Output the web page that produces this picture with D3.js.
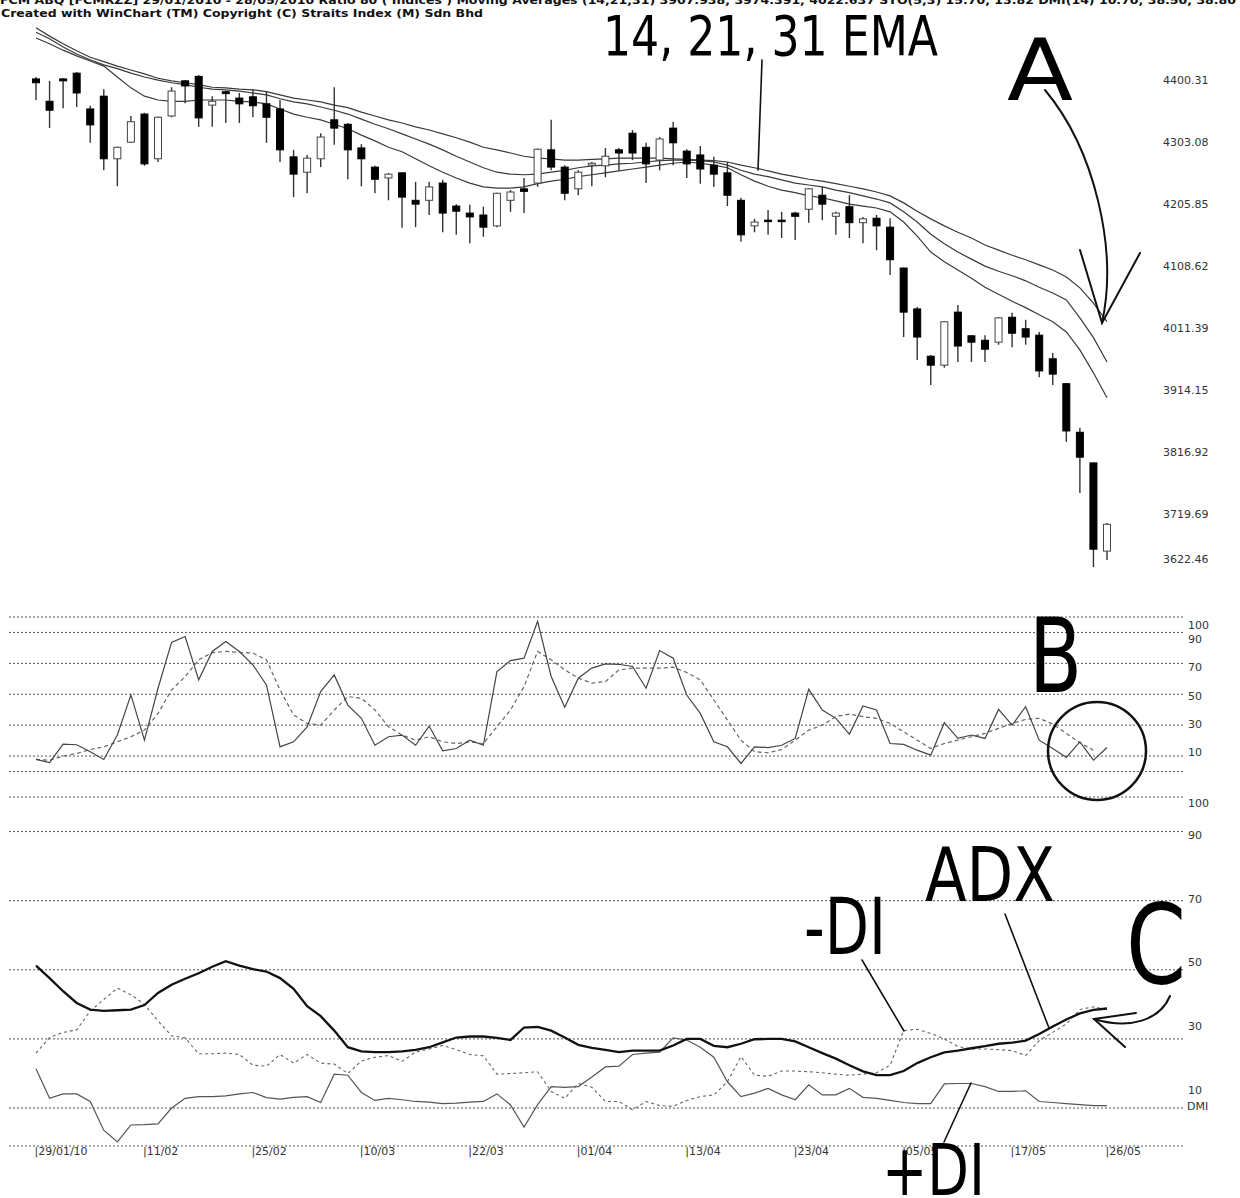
<!DOCTYPE html>
<html><head><meta charset="utf-8">
<script src="https://cdn.jsdelivr.net/npm/d3@7"></script>
<style>html,body{margin:0;padding:0;background:#fff;} svg{display:block}</style>
</head><body>
<svg id="chart" width="1240" height="1198"></svg>
<script>
// ---------- DATA ----------
const tickDays   = [0, 8, 16, 24, 32, 40, 48, 56, 64, 72, 79];
const tickLabels = ["29/01/10","11/02","25/02","10/03","22/03","01/04","13/04","23/04","05/05","17/05","26/05"];
const priceTicks = [4400.31, 4303.08, 4205.85, 4108.62, 4011.39, 3914.15, 3816.92, 3719.69, 3622.46];

const open  = [4402,4367,4402,4411,4355,4375,4277,4303,4347,4277, 4344,4399,4406,4361,4382,4372,4374,4363,4355,4280,
               4256,4277,4338,4331,4294,4264,4247,4255,4212,4212, 4239,4203,4192,4189,4172,4212,4230,4239,4291,4264,
               4230,4267,4266,4291,4317,4295,4275,4325,4289,4283, 4267,4255,4212,4172,4181,4181,4192,4198,4220,4187,
               4202,4177,4184,4170,4106,4042,3968,3954,4037,4000, 3993,3990,4029,4011,4001,3964,3925,3849,3801,3663];
const high  = [4405,4399,4403,4413,4360,4386,4296,4344,4349,4343, 4389,4400,4408,4375,4383,4380,4386,4382,4369,4291,
               4283,4317,4389,4333,4300,4266,4255,4256,4241,4241, 4244,4206,4205,4202,4224,4228,4247,4293,4338,4267,
               4259,4272,4294,4294,4322,4302,4311,4335,4292,4297, 4280,4272,4216,4183,4197,4194,4194,4231,4233,4194,
               4220,4186,4189,4184,4107,4045,3970,4023,4048,4001, 4001,4029,4036,4025,4006,3973,3926,3856,3802,3707];
const low   = [4369,4325,4356,4358,4302,4259,4234,4302,4266,4272, 4342,4364,4327,4327,4333,4333,4342,4302,4272,4217,
               4223,4264,4299,4245,4234,4223,4212,4169,4170,4189, 4162,4158,4145,4155,4170,4194,4192,4233,4259,4212,
               4220,4234,4248,4259,4275,4239,4259,4267,4247,4238, 4233,4203,4147,4162,4158,4153,4150,4177,4181,4158,
               4153,4145,4134,4095,3998,3962,3923,3950,3959,3959, 3959,3986,3982,3986,3935,3923,3834,3754,3638,3649];
const close = [4396,4353,4399,4380,4330,4277,4295,4335,4269,4342, 4383,4391,4341,4367,4379,4363,4360,4342,4291,4253,
               4278,4311,4325,4291,4277,4245,4253,4217,4206,4233, 4192,4195,4186,4170,4223,4225,4226,4292,4264,4223,
               4256,4270,4281,4286,4286,4269,4308,4302,4269,4261, 4253,4220,4158,4178,4180,4179,4187,4230,4206,4192,
               4177,4183,4172,4119,4037,3998,3954,4022,3984,3990, 3979,4028,4004,3998,3945,3940,3851,3810,3666,3705];

const ema14 = [4466,4457,4447,4438,4430,4422,4405,4388,4375,4369, 4367,4367,4369,4369,4369,4367,4366,4363,4355,4347,
               4342,4338,4331,4324,4314,4305,4295,4288,4277,4266, 4256,4247,4239,4233,4231,4231,4233,4238,4242,4245,
               4249,4252,4255,4258,4261,4264,4267,4270,4272,4270, 4267,4263,4252,4242,4234,4228,4224,4219,4216,4211,
               4206,4203,4200,4194,4178,4156,4131,4116,4103,4090, 4076,4065,4054,4044,4033,4022,4006,3978,3942,3903];
const ema21 = [4475,4465,4452,4441,4432,4424,4418,4411,4405,4400, 4396,4393,4389,4386,4385,4383,4380,4377,4371,4366,
               4363,4358,4353,4347,4339,4331,4324,4316,4308,4300, 4291,4281,4272,4263,4256,4253,4252,4253,4256,4259,
               4263,4266,4267,4269,4270,4272,4274,4275,4275,4274, 4272,4267,4259,4253,4249,4244,4239,4236,4233,4228,
               4224,4219,4214,4208,4194,4178,4159,4144,4131,4120, 4109,4101,4094,4086,4076,4067,4056,4028,3997,3959];
const ema31 = [4482,4469,4457,4446,4436,4429,4422,4416,4410,4403, 4399,4396,4393,4389,4388,4386,4385,4382,4377,4372,
               4369,4366,4361,4357,4350,4344,4338,4333,4327,4322, 4316,4310,4303,4295,4291,4286,4281,4278,4277,4275,
               4275,4276,4277,4278,4278,4278,4278,4277,4276,4275, 4274,4272,4267,4263,4258,4253,4249,4245,4242,4238,
               4234,4230,4225,4219,4208,4195,4183,4172,4162,4153, 4142,4134,4126,4119,4111,4103,4092,4075,4051,4022];

const rsi       = [7.8,5.8,17.7,17.3,12.8,7.8,23.6,49.6,20.3,53.9, 83.6,87.4,59.3,77.7,84.2,77.7,69.0,56.0,15.9,19.2,
                   28.9,51.7,62.5,43.0,34.4,17.0,22.5,23.6,17.0,29.4, 13.4,14.9,20.3,17.0,64.7,71.8,73.4,97.2,61.5,41.6,
                   60.4,66.9,69.7,69.4,68.0,53.9,78.3,73.3,49.5,37.6, 19.2,16.0,5.2,16.0,15.5,17.0,21.4,53.2,39.8,34.4,
                   24.2,42.4,39.8,18.1,17.5,13.8,10.6,31.6,21.4,23.6, 21.4,40.2,30.0,41.9,20.3,14.9,9.1,19.2,7.3,15.5];
const rsiSignal = [7.8,7.3,9.9,11.7,14.2,16.0,19.2,22.5,26.8,37.6, 52.8,61.4,72.3,77.0,77.7,77.2,76.6,72.3,52.8,36.6,
                   31.1,30.0,39.8,48.5,47.4,39.8,29.0,23.6,20.3,22.5, 19.2,18.1,19.2,18.1,29.0,39.8,55.0,77.7,72.3,65.8,
                   60.4,57.2,58.2,65.8,66.9,66.9,66.9,67.5,64.1,59.3, 46.3,33.3,20.3,12.8,12.1,14.2,20.3,26.8,30.0,35.5,
                   37.2,35.5,34.4,31.1,25.7,20.3,14.9,18.1,20.3,22.5, 24.7,27.9,31.1,33.7,34.4,30.7,24.7,18.6,13.8,null];

const adx     = [51.2,47.6,43.8,40.4,38.5,38.1,38.3,38.5,39.8,43.3, 45.7,47.4,49.0,50.9,52.5,51.2,50.2,49.5,47.6,44.5,
                 39.5,36.6,32.4,27.6,26.4,26.2,26.2,26.4,26.8,27.6, 29.0,30.4,30.7,30.7,30.3,29.7,33.3,33.5,32.4,30.4,
                 28.3,27.4,26.8,26.2,26.6,26.6,26.6,28.1,30.0,30.0, 28.0,27.6,28.6,29.9,30.0,30.0,29.3,27.6,25.9,24.3,
                 22.4,20.6,19.5,19.5,20.7,23.0,24.7,26.1,26.6,27.3, 27.9,28.6,28.9,29.5,31.4,33.6,35.6,37.4,38.4,38.8];
const minusDI = [25.9,30.4,31.9,32.6,38.1,41.4,44.7,42.8,40.0,35.2, 30.9,30.3,25.7,25.7,25.9,25.5,22.4,22.1,25.5,23.0,
                 25.5,23.0,22.7,20.0,23.6,24.7,25.2,23.5,26.2,27.1, 28.1,26.9,25.5,25.1,19.8,20.0,20.2,20.5,14.8,12.8,
                 17.1,16.0,11.9,11.9,9.5,11.9,10.7,10.5,12.2,13.3, 13.8,17.6,24.9,19.5,19.2,20.7,20.7,20.5,20.2,19.8,
                 19.5,19.8,20.2,22.4,32.4,32.8,31.6,30.0,27.8,27.1, 27.1,26.9,26.6,25.2,29.5,31.9,34.3,38.5,39.3,38.5];
const plusDI  = [21.4,12.8,14.1,14.1,11.9,3.6,0.2,5.1,5.2,5.4, 10.0,12.8,13.3,13.3,13.5,14.1,14.5,13.0,12.6,13.1,
                 13.3,11.6,19.8,19.5,14.5,12.2,12.8,12.4,11.9,11.7, 11.3,11.4,11.7,11.9,14.1,10.9,4.5,11.0,16.2,16.0,
                 16.2,19.0,21.9,22.1,25.5,25.9,26.2,30.3,29.7,27.6, 24.7,17.6,13.3,14.3,15.7,13.8,12.4,16.7,13.8,13.8,
                 15.7,13.1,12.8,12.2,11.6,11.3,11.3,17.0,17.1,17.1, 16.2,14.8,14.8,15.0,11.9,11.6,11.3,11.0,10.7,10.7];

const rsiLevels = [100, 90, 70, 50, 30, 10, 0];
const rsiLabels = [100, 90, 70, 50, 30, 10];
const dmiLevels = [100, 90, 70, 50, 30, 10];
const dmiLabels = [100, 90, 70, 50, 30, 10];

const headerLine1 = "FCM ABQ [FCMRZZ]  29/01/2010 - 28/05/2010   Ratio 80   ( Indices ) Moving Averages (14,21,31) 3907.938, 3974.391, 4022.637   STO(5,3) 15.70, 13.82   DMI(14) 10.70, 38.50, 38.80";
const headerLine2 = "Created with WinChart (TM)  Copyright (C) Straits Index (M) Sdn Bhd";

// ---------- LAYOUT ----------
const svg = d3.select("#chart");
const n = open.length;
const x  = d3.scaleLinear().domain([0, n - 1]).range([36, 1107]);
const yP = d3.scaleLinear().domain([3622.46, 4400.31]).range([577, 80]);
const yR = d3.scaleLinear().domain([0, 100]).range([771.5, 617]);
const yD = d3.scaleLinear().domain([0, 100]).range([1142.6, 797]);
const yRL = d3.scaleLinear().domain([10, 100]).range([752, 625]);   // RSI label placement
const yDL = d3.scaleLinear().domain([10, 100]).range([1090, 803]);  // DMI label placement
const gridX0 = 9, gridX1 = 1185;
const labelFont = "DejaVu Sans, Verdana, sans-serif";
const annoFont = "'Liberation Sans Narrow','Arial Narrow','DejaVu Sans Condensed',sans-serif";

// header
svg.append("text").attr("x", 0).attr("y", 4).attr("font-family", labelFont).attr("font-weight", "bold")
   .attr("font-size", 11).attr("fill", "#111").attr("textLength", 1236).attr("lengthAdjust", "spacingAndGlyphs").text(headerLine1);
svg.append("text").attr("x", 1).attr("y", 17).attr("font-family", labelFont).attr("font-weight", "bold")
   .attr("font-size", 11).attr("fill", "#111").attr("textLength", 482).attr("lengthAdjust", "spacingAndGlyphs").text(headerLine2);

// ---------- PRICE PANEL ----------
const lineP = d3.line().x((d, i) => x(i)).y(d => yP(d));
[ema31, ema21, ema14].forEach(s => {
  svg.append("path").datum(s).attr("d", lineP).attr("fill", "none").attr("stroke", "#3a3a3a").attr("stroke-width", 1.2);
});

const cg = svg.append("g");
const bodyW = 7;
d3.range(n).forEach(i => {
  const up = close[i] >= open[i];
  cg.append("line").attr("x1", x(i)).attr("x2", x(i)).attr("y1", yP(high[i])).attr("y2", yP(low[i]))
    .attr("stroke", "#333").attr("stroke-width", 1.4);
  const top = yP(Math.max(open[i], close[i])), bot = yP(Math.min(open[i], close[i]));
  cg.append("rect").attr("x", x(i) - bodyW / 2).attr("y", top).attr("width", bodyW)
    .attr("height", Math.max(1.5, bot - top))
    .attr("fill", up ? "#fff" : "#000").attr("stroke", up ? "#444" : "#000").attr("stroke-width", 1);
});

const pAxis = d3.axisRight(yP).tickValues(priceTicks).tickSize(0).tickPadding(0).tickFormat(d3.format(".2f"));
const pg = svg.append("g").attr("transform", "translate(1163,0)").call(pAxis);
pg.select(".domain").remove();
pg.selectAll(".tick").attr("transform", d => `translate(0,${Math.min(yP(d), 559)})`);
pg.selectAll("text").attr("font-family", labelFont).attr("font-size", 11).attr("fill", "#333");

// ---------- RSI PANEL ----------
const dashStyle = sel => sel.attr("stroke", "#555").attr("stroke-width", 1).attr("stroke-dasharray", "2,2");
rsiLevels.forEach(v => {
  svg.append("line").attr("x1", gridX0).attr("x2", gridX1).attr("y1", yR(v)).attr("y2", yR(v)).call(dashStyle);
});
const rAxis = d3.axisRight(yRL).tickValues(rsiLabels).tickSize(0).tickPadding(0);
const rg = svg.append("g").attr("transform", "translate(1188,0)").call(rAxis);
rg.select(".domain").remove();
rg.selectAll("text").attr("font-family", labelFont).attr("font-size", 11).attr("fill", "#333");

const lineR = d3.line().defined(d => d != null).x((d, i) => x(i)).y(d => yR(d));
svg.append("path").datum(rsiSignal).attr("d", lineR).attr("fill", "none").attr("stroke", "#666")
   .attr("stroke-width", 1.2).attr("stroke-dasharray", "4,3");
svg.append("path").datum(rsi).attr("d", lineR).attr("fill", "none").attr("stroke", "#444").attr("stroke-width", 1.2);

// ---------- DMI PANEL ----------
dmiLevels.forEach(v => {
  svg.append("line").attr("x1", gridX0).attr("x2", gridX1).attr("y1", yD(v)).attr("y2", yD(v)).call(dashStyle);
});
svg.append("line").attr("x1", gridX0).attr("x2", gridX1).attr("y1", 1146).attr("y2", 1146).call(dashStyle);
const dAxis = d3.axisRight(yDL).tickValues(dmiLabels).tickSize(0).tickPadding(0);
const dg = svg.append("g").attr("transform", "translate(1188,0)").call(dAxis);
dg.select(".domain").remove();
dg.selectAll("text").attr("font-family", labelFont).attr("font-size", 11).attr("fill", "#333");
svg.append("text").attr("x", 1187).attr("y", yD(10)).attr("dy", "0.2em").attr("font-family", labelFont)
   .attr("font-size", 11).attr("fill", "#333").text("DMI");

const lineD = d3.line().x((d, i) => x(i)).y(d => yD(d));
svg.append("path").datum(minusDI).attr("d", lineD).attr("fill", "none").attr("stroke", "#666")
   .attr("stroke-width", 1.1).attr("stroke-dasharray", "3,3");
svg.append("path").datum(plusDI).attr("d", lineD).attr("fill", "none").attr("stroke", "#555").attr("stroke-width", 1.2);
svg.append("path").datum(adx).attr("d", lineD).attr("fill", "none").attr("stroke", "#111").attr("stroke-width", 2.3);

// date axis
const xAxis = d3.axisBottom(x).tickValues(tickDays).tickSize(0).tickPadding(2)
  .tickFormat(d => "|" + tickLabels[tickDays.indexOf(d)]);
const xg = svg.append("g").attr("transform", "translate(0,1145)").call(xAxis);
xg.select(".domain").remove();
xg.selectAll("text").attr("text-anchor", "start").attr("dx", -2).attr("font-family", labelFont)
  .attr("font-size", 11).attr("fill", "#333");

// ---------- ANNOTATIONS ----------
const ann = svg.append("g").attr("fill", "none").attr("stroke", "#111").attr("stroke-width", 2).attr("stroke-linecap", "round");
function bigText(t, xx, yy, fs, len) {
  svg.append("text").attr("x", xx).attr("y", yy).attr("font-family", annoFont).attr("font-size", fs)
     .attr("fill", "#000").attr("textLength", len).attr("lengthAdjust", "spacingAndGlyphs").text(t);
}
bigText("14, 21, 31 EMA", 603, 55, 56, 335);
ann.append("line").attr("x1", 762).attr("y1", 60).attr("x2", 758).attr("y2", 170).attr("stroke-width", 1.6);

bigText("A", 1007, 100, 86, 66);
ann.append("path").attr("d", "M1045,90 C1095,150 1118,250 1102,323");
ann.append("path").attr("d", "M1080,250 L1102,323 L1140,253");

bigText("B", 1029, 692, 104, 53);
ann.append("circle").attr("cx", 1097).attr("cy", 751).attr("r", 49).attr("stroke-width", 2.5);

bigText("C", 1126, 983, 110, 60);
ann.append("path").attr("d", "M1170,996 C1160,1020 1130,1030 1094,1019");
ann.append("path").attr("d", "M1136,1013 L1094,1019 L1125,1047");

bigText("-DI", 804, 954, 78, 82);
ann.append("line").attr("x1", 862).attr("y1", 960).attr("x2", 904).attr("y2", 1031).attr("stroke-width", 1.6);

bigText("ADX", 925, 901, 75, 130);
ann.append("line").attr("x1", 1005).attr("y1", 914).attr("x2", 1049).attr("y2", 1028).attr("stroke-width", 1.6);

bigText("+DI", 882, 1195, 72, 103);
ann.append("line").attr("x1", 944).attr("y1", 1142).attr("x2", 971).attr("y2", 1083).attr("stroke-width", 1.6);
</script>
</body></html>
